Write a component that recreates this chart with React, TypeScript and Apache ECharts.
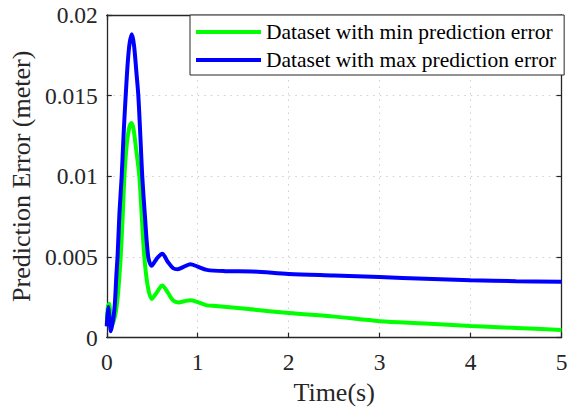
import React, { useEffect, useRef } from "react";
import * as echarts from "echarts";

const seriesNames = ["Dataset with min prediction error", "Dataset with max prediction error"];
const seriesColors = ["#00ff00", "#0000ff"];

const minTime = [0, 0.012, 0.025, 0.04, 0.06, 0.08, 0.1, 0.12, 0.135, 0.153, 0.175, 0.194, 0.22, 0.25, 0.272, 0.295, 0.32, 0.358, 0.385, 0.413, 0.45, 0.493, 0.55, 0.61, 0.67, 0.73, 0.79, 0.85, 0.92, 1.0, 1.1, 1.2, 1.5, 2.0, 2.5, 3.0, 3.5, 4.0, 4.5, 5.0];
const minError = [0.0008, 0.0019, 0.0021, 0.0015, 0.0008, 0.0011, 0.0016, 0.0025, 0.0035, 0.005, 0.0075, 0.01, 0.012, 0.0131, 0.0133, 0.0129, 0.0118, 0.01, 0.0075, 0.005, 0.0032, 0.0024, 0.0028, 0.00323, 0.0028, 0.0023, 0.00218, 0.00225, 0.00232, 0.0022, 0.002, 0.00196, 0.0018, 0.00152, 0.0013, 0.00102, 0.00088, 0.00072, 0.0006, 0.00047];

const maxTime = [0, 0.015, 0.03, 0.045, 0.06, 0.075, 0.09, 0.105, 0.12, 0.14, 0.164, 0.185, 0.208, 0.23, 0.25, 0.275, 0.3, 0.325, 0.347, 0.37, 0.39, 0.42, 0.456, 0.493, 0.55, 0.61, 0.67, 0.73, 0.78, 0.85, 0.92, 1.0, 1.1, 1.3, 1.6, 2.0, 2.5, 3.0, 3.5, 4.0, 4.5, 5.0];
const maxError = [0.0007, 0.0019, 0.0012, 0.0004, 0.0008, 0.0013, 0.0022, 0.0038, 0.0052, 0.0078, 0.01, 0.0126, 0.015, 0.017, 0.0182, 0.0188, 0.0181, 0.0165, 0.015, 0.0124, 0.01, 0.0075, 0.005, 0.00445, 0.0049, 0.0052, 0.0047, 0.0043, 0.00424, 0.0044, 0.00455, 0.0044, 0.0042, 0.00412, 0.0041, 0.00395, 0.00385, 0.00375, 0.00365, 0.00355, 0.0035, 0.00347];

const xTickLabels = ["0", "1", "2", "3", "4", "5"];
const yTickLabels = ["0", "0.005", "0.01", "0.015", "0.02"];

const FONT = "'Liberation Serif', 'Times New Roman', serif";
const AXIS_COLOR = "#262626";

export default function App() {
  const ref = useRef<HTMLDivElement>(null);
  useEffect(() => {
    document.body.style.margin = "0";
    if (!ref.current) return;
    const chart = echarts.init(ref.current, undefined, { renderer: "svg" });
    const minData = minTime.map((t, i) => [t, minError[i]]);
    const maxData = maxTime.map((t, i) => [t, maxError[i]]);
    const axisLine = { show: true, onZero: false, lineStyle: { color: AXIS_COLOR, width: 1.3 } };
    const axisTick = { show: true, inside: true, length: 5, lineStyle: { color: AXIS_COLOR, width: 1.2 } };
    const splitLine = { show: true, lineStyle: { color: "#cfcfcf", type: [1.5, 5], width: 1 } };
    chart.setOption({
      animation: false,
      backgroundColor: "#ffffff",
      grid: { left: 105, right: 9.5, top: 15, bottom: 65.5, containLabel: false },
      legend: {
        orient: "vertical",
        left: 190,
        top: 15,
        padding: [5, 8, 3, 6],
        itemWidth: 65,
        itemHeight: 4,
        itemGap: 4,
        icon: "rect",
        backgroundColor: "#ffffff",
        borderColor: AXIS_COLOR,
        borderWidth: 1,
        textStyle: { fontFamily: FONT, fontSize: 21.5, color: "#000000", lineHeight: 24, padding: [0, 0, 0, 0] },
        data: seriesNames,
      },
      xAxis: [
        {
          type: "value",
          min: 0,
          max: 5,
          interval: 1,
          name: "Time(s)",
          nameLocation: "middle",
          nameGap: 40.5,
          nameTextStyle: { fontFamily: FONT, fontSize: 26, color: AXIS_COLOR },
          axisLine,
          axisTick,
          splitLine,
          axisLabel: {
            fontFamily: FONT,
            fontSize: 23.5,
            color: AXIS_COLOR,
            margin: 12.5,
            formatter: (v: number) => xTickLabels[Math.round(v)],
          },
        },
        {
          type: "value",
          position: "top",
          min: 0,
          max: 5,
          interval: 1,
          axisLine,
          axisTick,
          splitLine: { show: false },
          axisLabel: { show: false },
        },
      ],
      yAxis: [
        {
          type: "value",
          min: 0,
          max: 0.02,
          interval: 0.005,
          name: "Prediction Error (meter)",
          nameLocation: "middle",
          nameGap: 68,
          nameTextStyle: { fontFamily: FONT, fontSize: 26, color: AXIS_COLOR },
          axisLine,
          axisTick,
          splitLine,
          axisLabel: {
            fontFamily: FONT,
            fontSize: 23.5,
            color: AXIS_COLOR,
            margin: 9,
            formatter: (v: number) => yTickLabels[Math.round(v / 0.005)],
          },
        },
        {
          type: "value",
          position: "right",
          min: 0,
          max: 0.02,
          interval: 0.005,
          axisLine,
          axisTick,
          splitLine: { show: false },
          axisLabel: { show: false },
        },
      ],
      series: [
        {
          name: seriesNames[0],
          type: "line",
          data: minData,
          smooth: 0.3,
          showSymbol: false,
          lineStyle: { color: seriesColors[0], width: 4 },
          itemStyle: { color: seriesColors[0] },
          z: 2,
        },
        {
          name: seriesNames[1],
          type: "line",
          data: maxData,
          smooth: 0.3,
          showSymbol: false,
          lineStyle: { color: seriesColors[1], width: 4 },
          itemStyle: { color: seriesColors[1] },
          z: 3,
        },
      ],
    });
    return () => chart.dispose();
  }, []);
  return <div ref={ref} style={{ width: 571, height: 410 }} />;
}
